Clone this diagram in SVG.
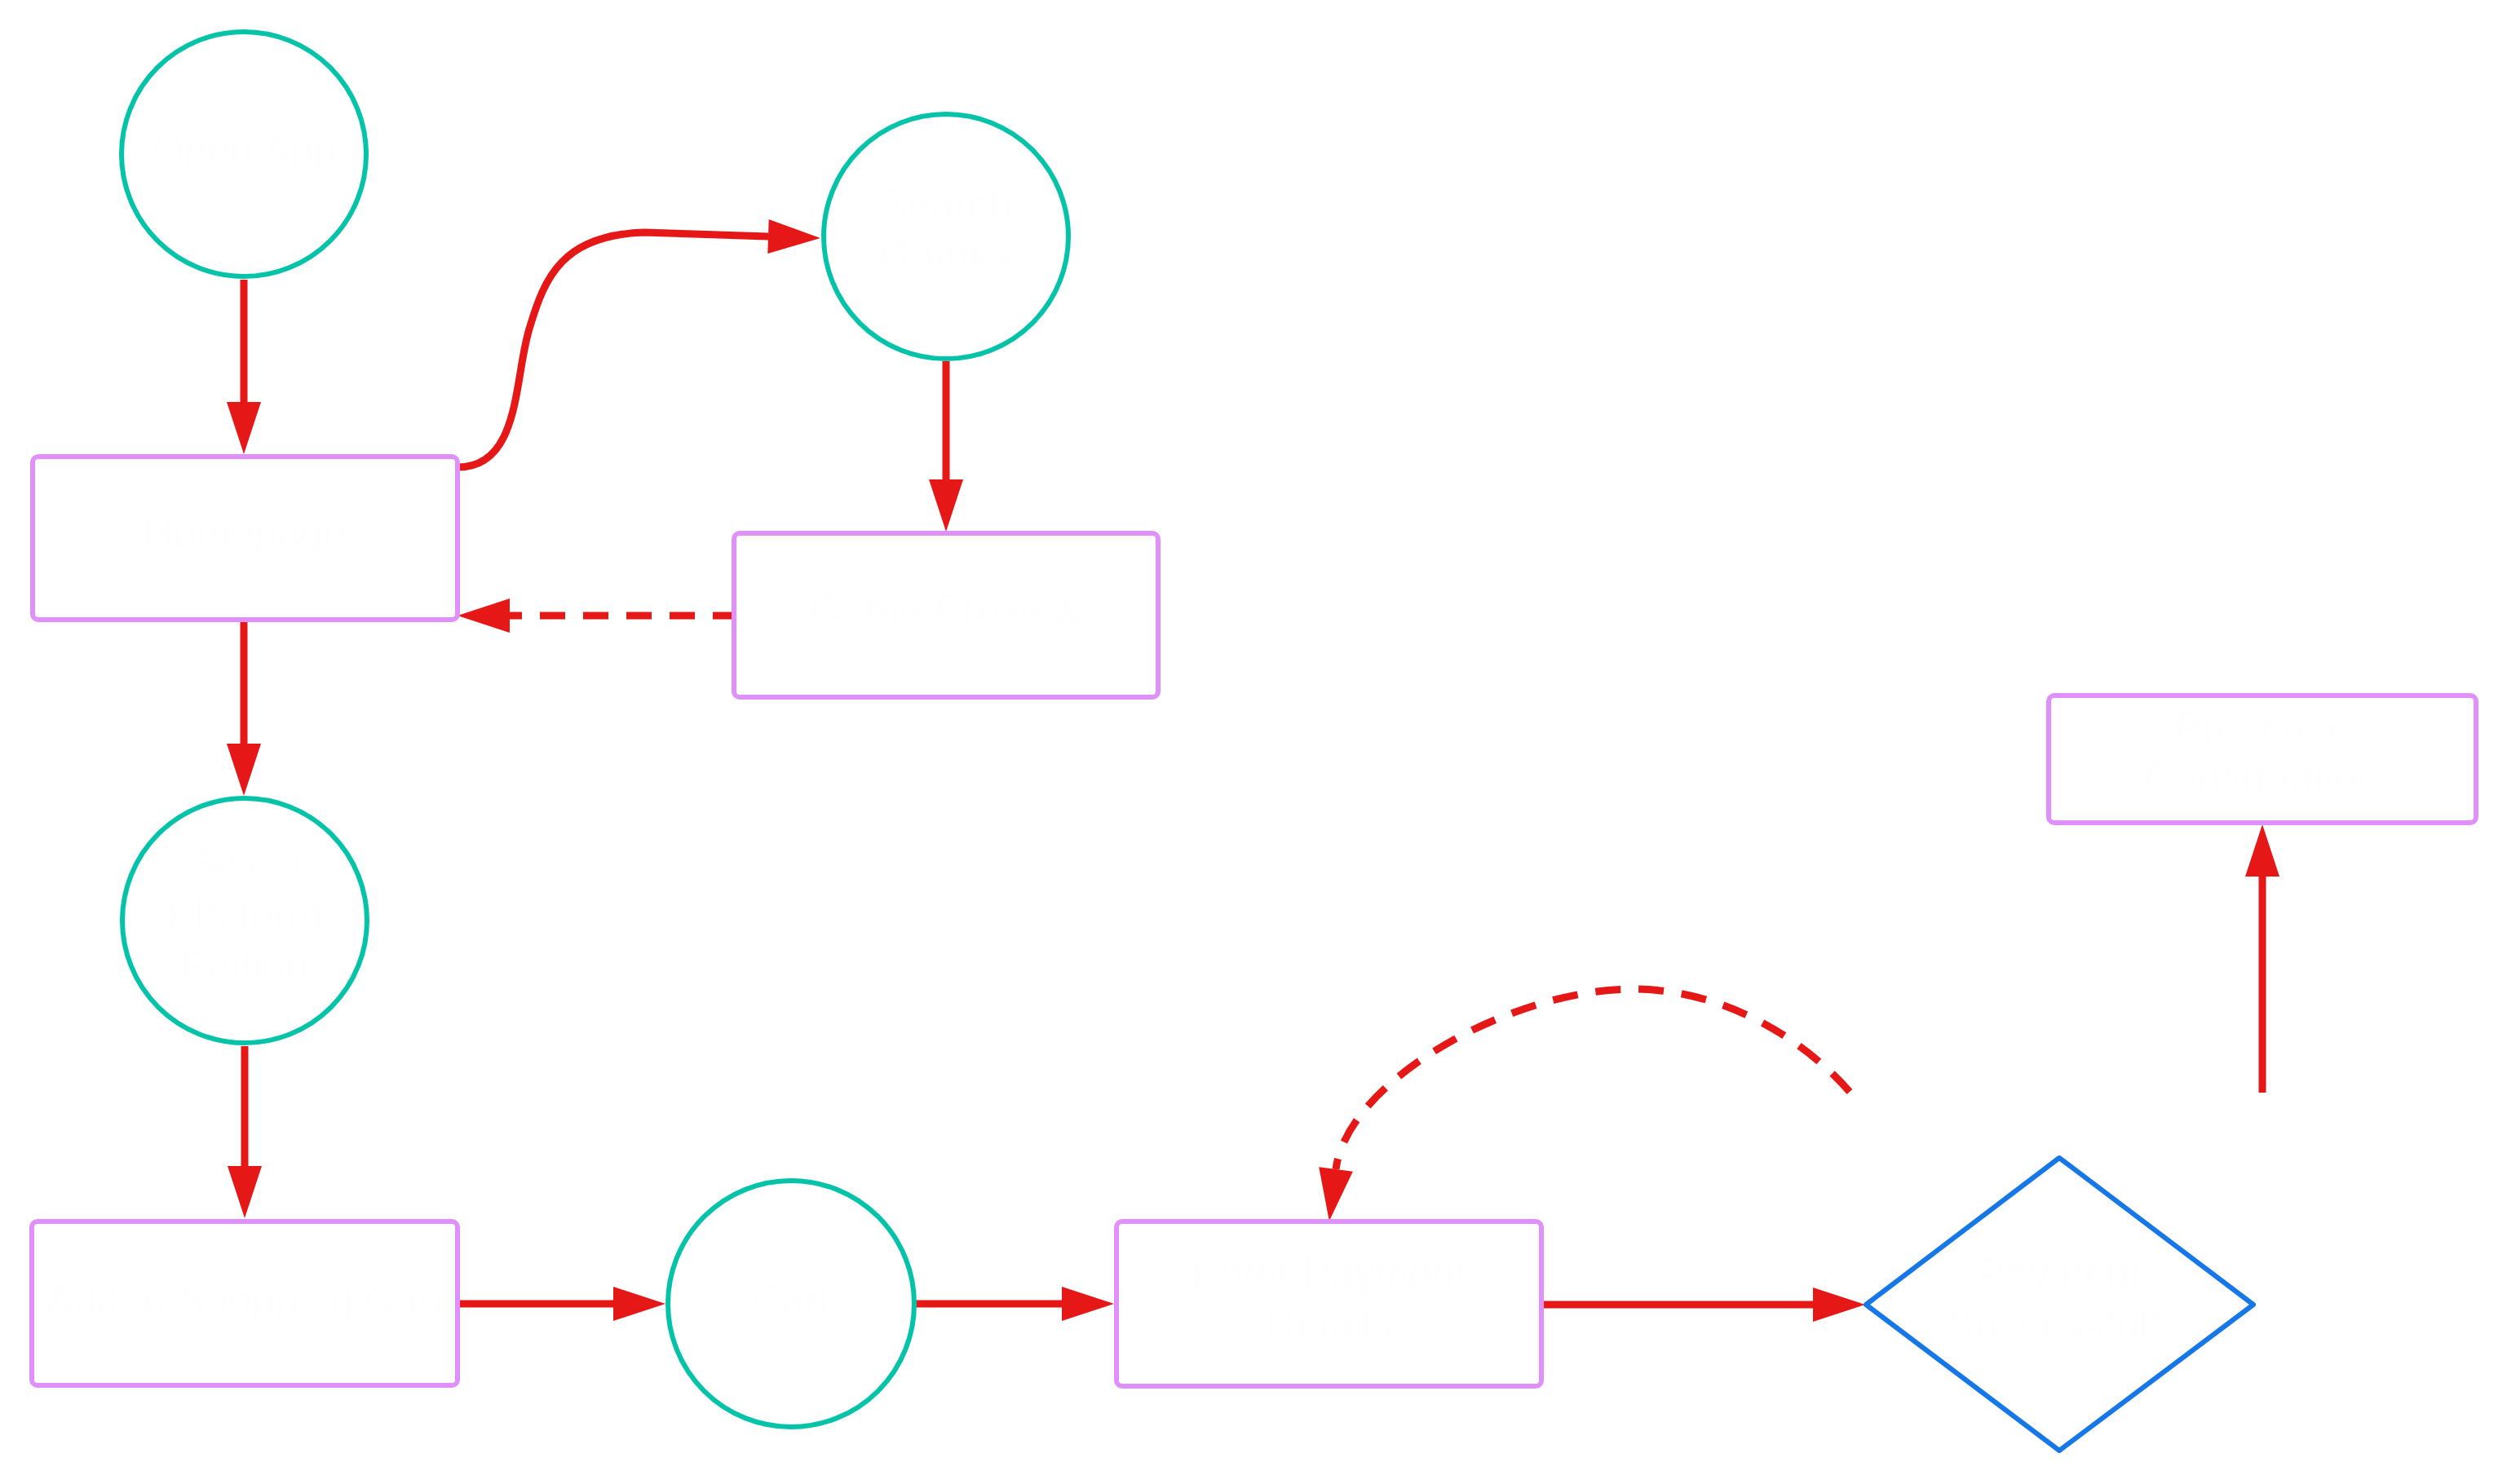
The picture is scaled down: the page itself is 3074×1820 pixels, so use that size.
<svg xmlns="http://www.w3.org/2000/svg" width="3074" height="1820" viewBox="0 0 3074 1820">
<style>
.circ{fill:#ffffff;stroke:#05c3a8;stroke-width:6}
.box{fill:#ffffff;stroke:#df90fb;stroke-width:6}
.dia{fill:#ffffff;stroke:#1677e6;stroke-width:6;stroke-linejoin:round}
.lbl{font-family:"Liberation Sans",Arial,sans-serif;font-size:51px;fill:#fefefe;text-anchor:middle}
.edge{fill:none;stroke:#e61717;stroke-width:9;marker-end:url(#ah)}
.dash{stroke-dasharray:31 22}
</style>
<defs>
<marker id="ah" viewBox="0 -21 64 42" refX="0" refY="0" markerWidth="64" markerHeight="42" markerUnits="userSpaceOnUse" orient="auto" overflow="visible">
<path d="M0,-21 L64,0 L0,21 Z" fill="#e61717"/>
</marker>
</defs>
<rect width="3074" height="1820" fill="#ffffff"/>
<g id="connectors">
<path class="edge" d="M299,343 L299,493"/>
<path class="edge" d="M561,573 C640,573 630,460 650,400 C668,340 690,288 790,285 L942,290"/>
<path class="edge" d="M1160,443 L1160,588"/>
<path class="edge dash" d="M905,755 L625,755"/>
<path class="edge" d="M299,763 L299,912"/>
<path class="edge" d="M300,1283 L300,1430"/>
<path class="edge" d="M561,1599 L752,1599"/>
<path class="edge" d="M1121,1599 L1302,1599"/>
<path class="edge" d="M1890,1600 L2223,1600"/>
<path class="edge dash" d="M2268,1339 C2202,1264 2103,1213 2003,1213 C1853,1213 1652,1325 1638,1434"/>
<path class="edge" d="M2774,1340 L2774,1075"/>
</g>
<g id="n1"><circle class="circ" cx="299" cy="189" r="150"/><text class="lbl" x="299" y="201">Open App</text></g>
<g id="n2"><rect class="box" x="40" y="560" width="521" height="200" rx="7"/><text class="lbl" x="300" y="671">Homepage</text></g>
<g id="n3"><circle class="circ" cx="1160" cy="290" r="150"/><text class="lbl" x="1160" y="268">Search</text><text class="lbl" x="1160" y="331">Games</text></g>
<g id="n4"><rect class="box" x="900" y="654" width="520" height="201" rx="7"/><text class="lbl" x="1160" y="766">Game Preview</text></g>
<g id="n5"><circle class="circ" cx="300" cy="1129" r="150"/><text class="lbl" x="300" y="1077">Select</text><text class="lbl" x="300" y="1140">Platform</text><text class="lbl" x="300" y="1203">Edition</text></g>
<g id="n6"><rect class="box" x="39" y="1498" width="522" height="201" rx="7"/><text class="lbl" x="300" y="1611">Add to Shopping Cart</text></g>
<g id="n7"><circle class="circ" cx="970" cy="1599" r="151"/><text class="lbl" x="970" y="1611">Cart</text></g>
<g id="n8"><rect class="box" x="1369" y="1498" width="521" height="202" rx="7"/><text class="lbl" x="1630" y="1580">Enter Payment</text><text class="lbl" x="1630" y="1643">Details</text></g>
<g id="n9"><path class="dia" d="M2525,1420 L2763,1600 L2525,1779 L2288,1600 Z"/><text class="lbl" x="2525" y="1580">Payment</text><text class="lbl" x="2525" y="1643">Successful?</text></g>
<g id="n10"><rect class="box" x="2512" y="853" width="524" height="156" rx="7"/><text class="lbl" x="2774" y="910">Purchase</text><text class="lbl" x="2774" y="973">Confirmation</text></g>
</svg>
